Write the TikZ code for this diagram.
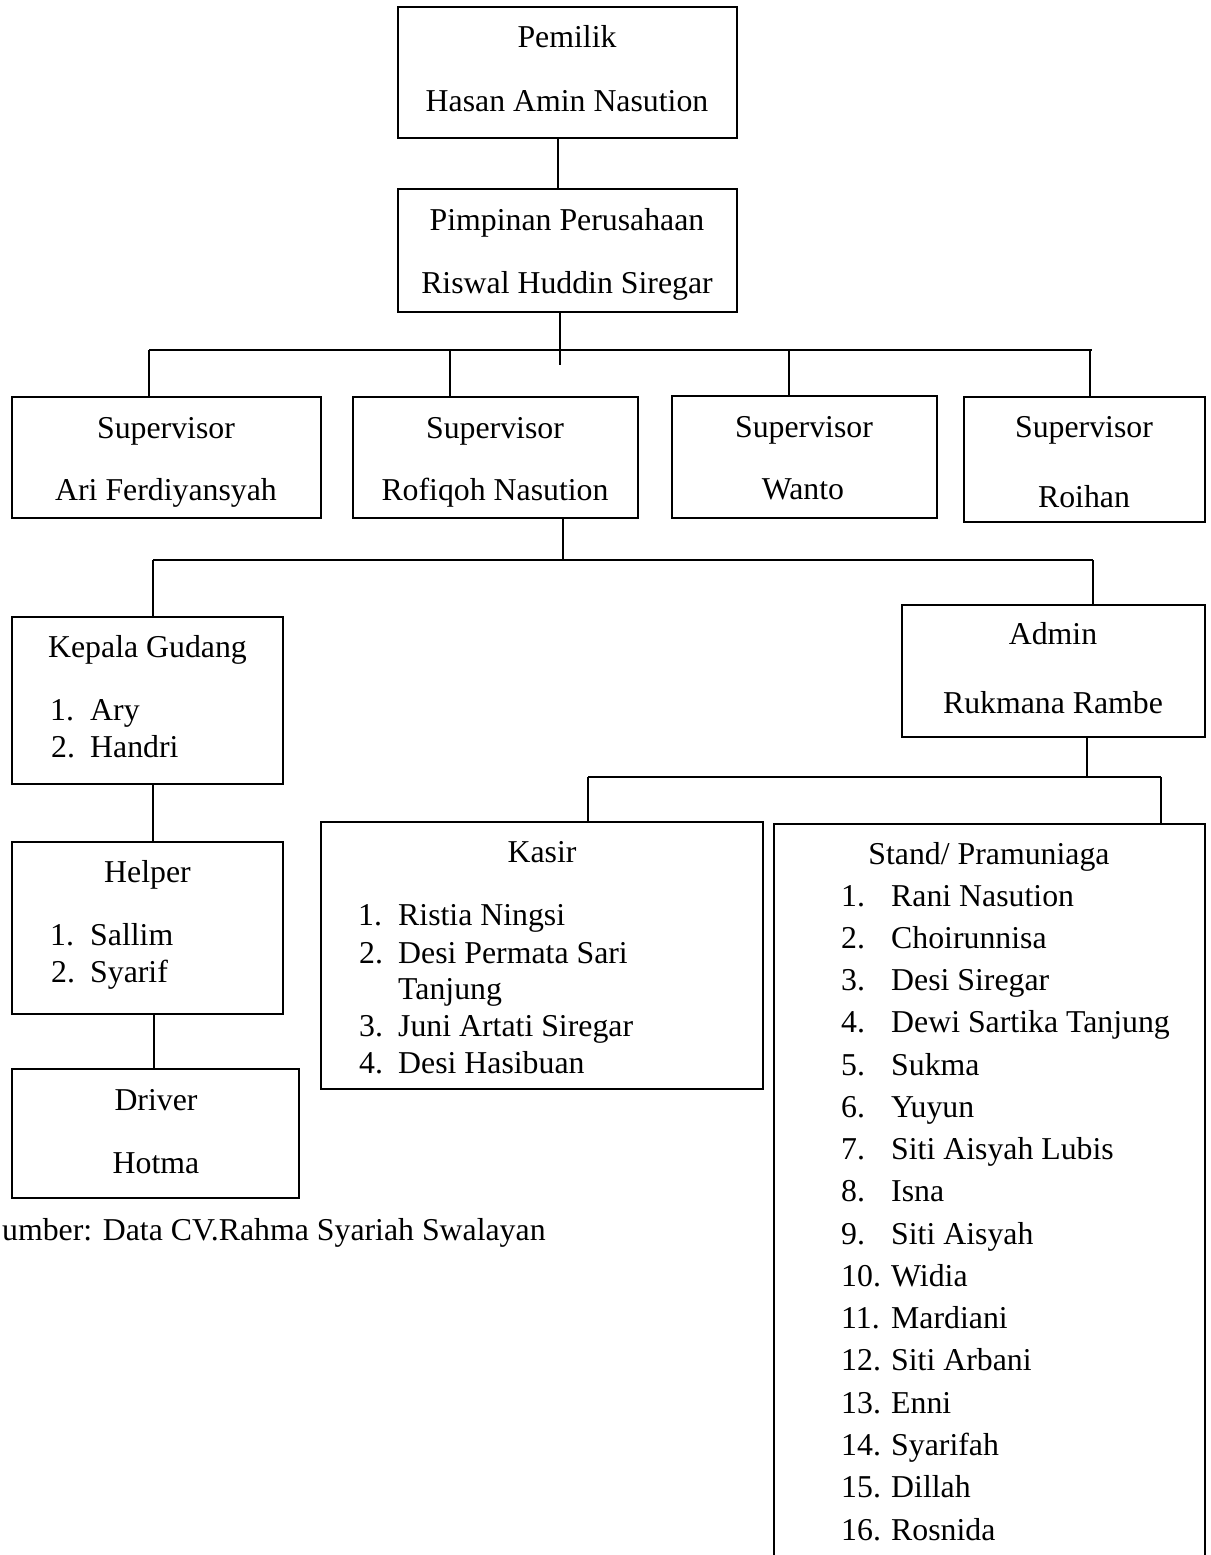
\documentclass[tikz,border=0pt]{standalone}
\usepackage{fontspec}
\setmainfont{Liberation Serif}
\begin{document}
\begin{tikzpicture}[x=1pt,y=-1pt,
  box/.style={draw, line width=2pt, rectangle, inner sep=0pt, outer sep=0pt, anchor=north west},
  conn/.style={line width=1.6pt},
  bar/.style={line width=2.2pt},
  txt/.style={inner sep=0pt, anchor=base, font=\fontsize{31.8}{38}\selectfont},
  itm/.style={inner sep=0pt, anchor=base west, font=\fontsize{31.8}{38}\selectfont}]
\useasboundingbox (0,0) rectangle (1210,1555);
\fill[white] (0,0) rectangle (1210,1555);
\clip (0,0) rectangle (1210,1555);

% boxes
\node[box, minimum width=339pt, minimum height=131pt] (pemilik) at (398,7) {};
\node[box, minimum width=339pt, minimum height=123pt] (pimpinan) at (398,189) {};
\node[box, minimum width=309pt, minimum height=121pt] (sup1) at (12,397) {};
\node[box, minimum width=285pt, minimum height=121pt] (sup2) at (353,397) {};
\node[box, minimum width=265pt, minimum height=122pt] (sup3) at (672,396) {};
\node[box, minimum width=241pt, minimum height=125pt] (sup4) at (964,397) {};
\node[box, minimum width=271pt, minimum height=167pt] (kepala) at (12,617) {};
\node[box, minimum width=303pt, minimum height=132pt] (admin) at (902,605) {};
\node[box, minimum width=271pt, minimum height=172pt] (helper) at (12,842) {};
\node[box, minimum width=287pt, minimum height=129pt] (driver) at (12,1069) {};
\node[box, minimum width=442pt, minimum height=267pt] (kasir) at (321,822) {};
\node[box, minimum width=431pt, minimum height=800pt] (stand) at (774,824) {};

% connectors
\coordinate (v0) at (558,0);
\draw[conn] (pemilik.south -| v0) -- (pimpinan.north -| v0);

\coordinate (t1) at (560,0);
\coordinate (t1end) at (560,365);
\coordinate (b1l) at (149,350);
\coordinate (b1r) at (1092,350);
\coordinate (d2) at (450,350);
\coordinate (d3) at (789,350);
\coordinate (d4) at (1090,350);
\draw[bar] (b1l) -- (b1r);
\draw[conn] (pimpinan.south -| t1) -- (t1end);
\draw[conn] (b1l) -- (sup1.north -| b1l);
\draw[conn] (d2) -- (sup2.north -| d2);
\draw[conn] (d3) -- (sup3.north -| d3);
\draw[conn] (d4) -- (sup4.north -| d4);

\coordinate (t2) at (563,560);
\coordinate (b2l) at (153,560);
\coordinate (b2r) at (1093,560);
\draw[bar] (b2l) -- (b2r);
\draw[conn] (sup2.south -| t2) -- (t2);
\draw[conn] (b2l) -- (kepala.north -| b2l);
\draw[conn] (b2r) -- (admin.north -| b2r);

\coordinate (k1) at (153,0);
\coordinate (k2) at (154,0);
\draw[conn] (kepala.south -| k1) -- (helper.north -| k1);
\draw[conn] (helper.south -| k2) -- (driver.north -| k2);

\coordinate (t3) at (1087,777);
\coordinate (b3l) at (588,777);
\coordinate (b3r) at (1161,777);
\draw[bar] (b3l) -- (b3r);
\draw[conn] (admin.south -| t3) -- (t3);
\draw[conn] (b3l) -- (kasir.north -| b3l);
\draw[conn] (b3r) -- (stand.north -| b3r);

% texts
\node[txt] (pem1) at (567,48) {Pemilik};
\node[txt] (pem2) at (567,111) {Hasan Amin Nasution};
\node[txt] (pim1) at (567,230) {Pimpinan Perusahaan};
\node[txt] (pim2) at (567,293) {Riswal Huddin Siregar};
\node[txt] (s1a) at (166,438) {Supervisor};
\node[txt] (s1b) at (166,500) {Ari Ferdiyansyah};
\node[txt] (s2a) at (495,438) {Supervisor};
\node[txt] (s2b) at (495,500) {Rofiqoh Nasution};
\node[txt] (s3a) at (804,437) {Supervisor};
\node[txt] (s3b) at (803,499) {Wanto};
\node[txt] (s4a) at (1084,437) {Supervisor};
\node[txt] (s4b) at (1084,507) {Roihan};

\node[txt] (kg) at (147.5,657) {Kepala Gudang};
\node[itm] (kgn1) at (50,720) {1.};
\node[itm] (kgs1) at (90,720) {Ary};
\node[itm] (kgn2) at (51,757) {2.};
\node[itm] (kgs2) at (90,757) {Handri};

\node[txt] (ad1) at (1053,644) {Admin};
\node[txt] (ad2) at (1053,713) {Rukmana Rambe};

\node[txt] (hp) at (147.5,882) {Helper};
\node[itm] (hpn1) at (50,945) {1.};
\node[itm] (hps1) at (90,945) {Sallim};
\node[itm] (hpn2) at (51,982) {2.};
\node[itm] (hps2) at (90,982) {Syarif};

\node[txt] (dr1) at (156,1110) {Driver};
\node[txt] (dr2) at (156,1173) {Hotma};

\node[txt] (ks) at (542,862) {Kasir};
\node[itm] (ksn1) at (358,925) {1.};
\node[itm] (kss1) at (398,925) {Ristia Ningsi};
\node[itm] (ksn2) at (359,963) {2.};
\node[itm] (kss2) at (398,963) {Desi Permata Sari};
\node[itm] (kss2b) at (398,999) {Tanjung};
\node[itm] (ksn3) at (359,1036) {3.};
\node[itm] (kss3) at (398,1036) {Juni Artati Siregar};
\node[itm] (ksn4) at (359,1073) {4.};
\node[itm] (kss4) at (398,1073) {Desi Hasibuan};

\node[txt] (st) at (989,864) {Stand/ Pramuniaga};
\foreach \n/\s [count=\i from 0] in {1/Rani Nasution, 2/Choirunnisa, 3/Desi Siregar, 4/Dewi Sartika Tanjung, 5/Sukma, 6/Yuyun, 7/Siti Aisyah Lubis, 8/Isna, 9/Siti Aisyah, 10/Widia, 11/Mardiani, 12/Siti Arbani, 13/Enni, 14/Syarifah, 15/Dillah, 16/Rosnida}{
  \node[itm] (stn\n) at (841,{906+42.27*\i}) {\n.};
  \node[itm] (sts\n) at (891,{906+42.27*\i}) {\s};
}

\node[itm] (src) at (2,1240) {umber: Data CV.Rahma Syariah Swalayan};
\end{tikzpicture}
\end{document}
